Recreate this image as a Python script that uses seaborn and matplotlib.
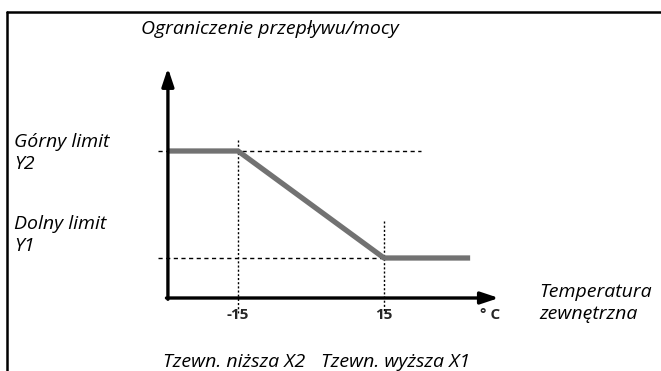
import matplotlib
matplotlib.use("Agg")
import matplotlib.pyplot as plt
import seaborn as sns
import pandas as pd

sns.set_theme(style="white")
plt.rcParams["font.family"] = ["Open Sans", "DejaVu Sans"]

# Breakpoints of the limiting curve (outdoor temperature, limit level)
temp_low, temp_high = -15, 15          # X2, X1
limit_low, limit_high = 1.0, 2.0       # Y1, Y2
curve_temps = [-29.4, temp_low, temp_high, 32.7]
curve_limits = [limit_high, limit_high, limit_low, limit_low]
tick_labels = ["-15", "15"]

title_text = "Ograniczenie przepływu/mocy"
upper_text = "Górny limit\nY2"
lower_text = "Dolny limit\nY1"
xaxis_text = "Temperatura\nzewnętrzna"
x2_text = "Tzewn. niższa X2"
x1_text = "Tzewn. wyższa X1"
unit_text = "° C"

W, H = 661, 371
fig = plt.figure(figsize=(W / 100, H / 100), dpi=100)
ax = fig.add_axes([0, 0, 1, 1])

# pixel scale of the drawing: -15 -> 238px, 15 -> 384px; Y2 -> 151px, Y1 -> 258px (from top)
px_per_x = (384 - 238) / (temp_high - temp_low)
px_per_y = (258 - 151) / (limit_high - limit_low)
ax.set_xlim(temp_low - 238 / px_per_x, temp_low + (W - 238) / px_per_x)
ax.set_ylim(limit_low - (H - 258) / px_per_y, limit_low + 258 / px_per_y)
ax.set_axis_off()

def px(xp, yp):
    return xp / W, 1 - yp / H

x_origin = -29.4
y_origin = limit_low - 40 / px_per_y
x_tip = 38.6
y_tip = limit_low + (258 - 68) / px_per_y

# guide lines
ax.plot([-31.5, temp_high + 7.6], [limit_high, limit_high], color="black", lw=1.0,
        ls=(0, (3, 2.5)), zorder=1)
ax.plot([-31.5, temp_high], [limit_low, limit_low], color="black", lw=1.0,
        ls=(0, (3, 2.5)), zorder=1)
ax.plot([temp_low, temp_low], [limit_high + 0.1, y_origin - 0.14], color="black", lw=1.0,
        ls=(0, (1.5, 1.5)), zorder=1)
ax.plot([temp_high, temp_high], [limit_low + 0.35, y_origin - 0.14], color="black", lw=1.0,
        ls=(0, (1.5, 1.5)), zorder=1)

# limiting curve
df = pd.DataFrame({"temp": curve_temps, "limit": curve_limits})
sns.lineplot(data=df, x="temp", y="limit", color="#727272", lw=3.8, sort=False,
             ax=ax, zorder=3, solid_capstyle="butt")

# axes with arrows
arrow = dict(arrowstyle="-|>,head_length=0.9,head_width=0.3", color="black", lw=2.4,
             shrinkA=0, shrinkB=0)
ax.annotate("", xy=(x_tip, y_origin), xytext=(x_origin - 0.3, y_origin), arrowprops=arrow, zorder=4)
ax.annotate("", xy=(x_origin, y_tip), xytext=(x_origin, y_origin - 0.012), arrowprops=arrow, zorder=4)

# tick labels
for t, lab in zip([temp_low, temp_high], tick_labels):
    ax.text(t, y_origin - 0.09, lab, ha="center", va="top", fontsize=11, fontweight="bold")
ax.text(x_tip - 1.8, y_origin - 0.09, unit_text, ha="center", va="top", fontsize=11, fontweight="bold")

# labels
ti = dict(fontsize=14, style="italic", color="black")
fig.text(*px(141, 29), title_text, ha="left", va="center", **ti)
fig.text(*px(14, 153), upper_text, ha="left", va="center", linespacing=1.25, **ti)
fig.text(*px(14, 235), lower_text, ha="left", va="center", linespacing=1.25, **ti)
fig.text(*px(539, 303), xaxis_text, ha="left", va="center", linespacing=1.25, **ti)
fig.text(*px(163, 362), x2_text, ha="left", va="center", **ti)
fig.text(*px(321, 362), x1_text, ha="left", va="center", **ti)

# frame: top and left edges
fig.add_artist(plt.Line2D([7 / W, 1], [1 - 12 / H, 1 - 12 / H], color="black", lw=1.8,
                          transform=fig.transFigure))
fig.add_artist(plt.Line2D([7 / W, 7 / W], [0, 1 - 12 / H], color="black", lw=1.8,
                          transform=fig.transFigure))

fig.savefig("out.png", dpi=100)
